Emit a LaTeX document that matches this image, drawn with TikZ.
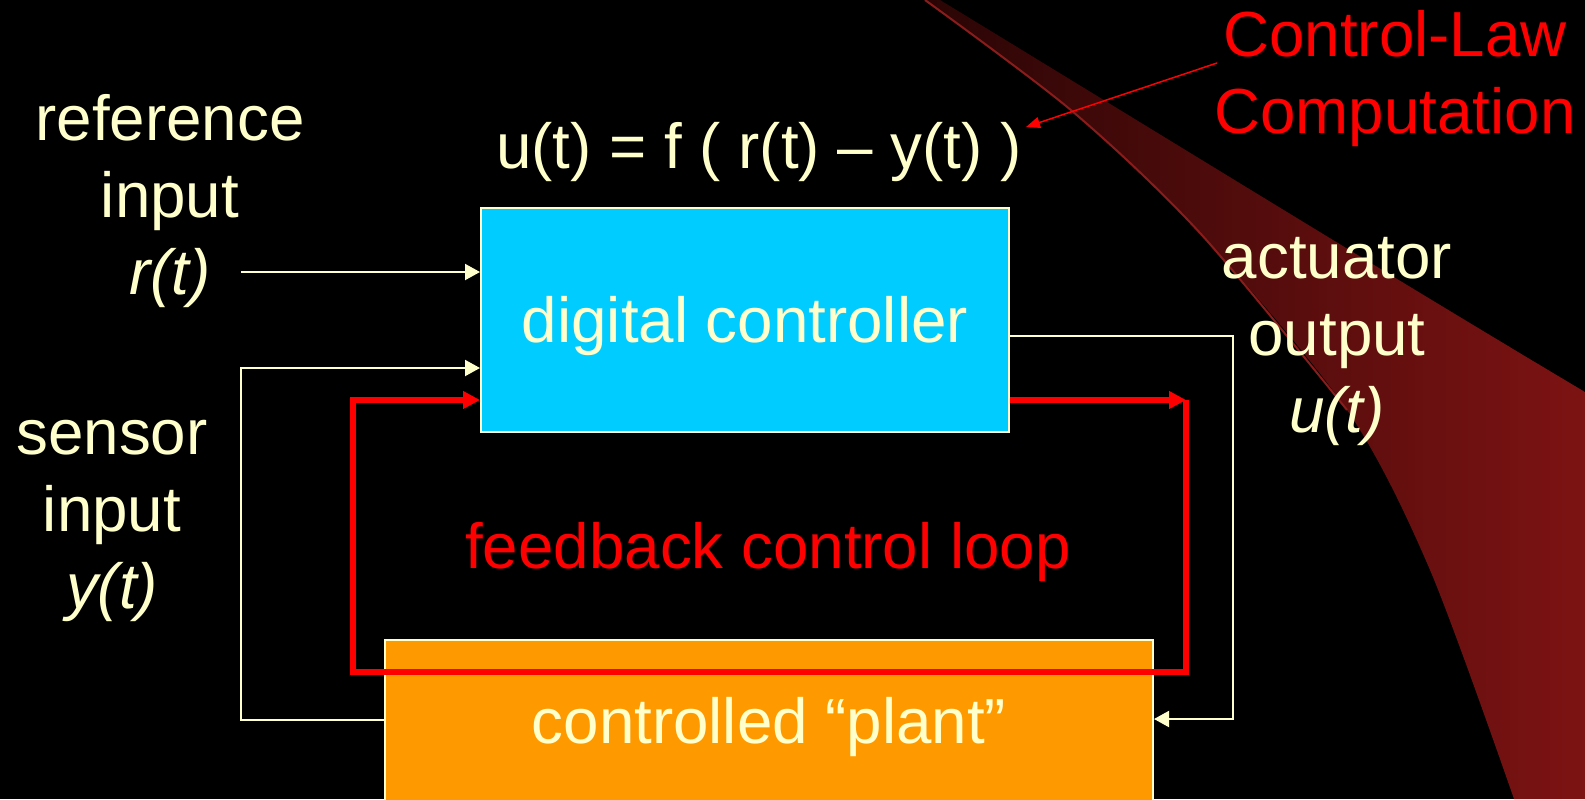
\documentclass[tikz,border=0pt]{standalone}
\usepackage{fontspec}
\setmainfont{Liberation Sans}
\usetikzlibrary{arrows.meta,calc}
\definecolor{cream}{HTML}{FFFFCC}
\definecolor{ctrlblue}{HTML}{00CCFF}
\definecolor{plantorange}{HTML}{FF9900}
\definecolor{loopred}{HTML}{FF0000}
\definecolor{swooshdark}{HTML}{2A0505}
\definecolor{swooshmid}{HTML}{5A0E0E}
\definecolor{swooshlight}{HTML}{7D1313}
\definecolor{swooshedge}{HTML}{8A1C1C}

\begin{document}
\begin{tikzpicture}[x=0.5pt,y=-0.5pt,
  bigfont/.style={font=\fontsize{31.85pt}{38.5pt}\selectfont},
  txt/.style={bigfont,text=cream,inner sep=0pt,align=center},
  redtxt/.style={bigfont,text=loopred,inner sep=0pt,align=center},
  blockbox/.style={draw=cream,line width=1pt,bigfont,text=cream,inner sep=0pt,text height=22.8pt},
  creamarrow/.style={draw=cream,line width=1pt,-{Triangle[length=7.5pt,width=8pt]}},
  redarrow/.style={draw=loopred,line width=3.3pt,-{Triangle[length=8.5pt,width=8.5pt]}},
  lawarrow/.style={draw=loopred,line width=0.75pt,-{Triangle[length=7pt,width=5.5pt]}}]

\useasboundingbox (0,0) rectangle (1585,799);
\fill[black] (0,0) rectangle (1585,799);
\clip (0,0) rectangle (1585,799);

% decorative swoosh in the background
\shade[left color=swooshdark, middle color=swooshmid, right color=swooshlight]
  (940,0) .. controls (1150,128) and (1400,282) .. (1585,392) -- (1585,799) -- (1514,799)
  -- plot[smooth] coordinates {(1514,799) (1430,570) (1347,410) (1200,233) (1072,111) (925,0)} -- cycle;
\draw[swooshedge, line width=1pt]
  plot[smooth] coordinates {(925,0) (1072,111) (1200,233) (1347,410)};

% blocks
\node[blockbox, fill=ctrlblue, minimum width=264pt, minimum height=112pt, text depth=0pt]
  (ctrl) at (745,320) {digital controller};
\node[blockbox, fill=plantorange, minimum width=384pt, minimum height=95pt, text depth=14.8pt]
  (plant) at (769,735) {controlled “plant”};

% labels (base anchor = baseline of the last line)
\node[txt, anchor=base] (refin) at (170,294) {reference\\input\\\itshape r(t)};
\node[txt, anchor=base] (sensin) at (112,608) {sensor\\input\\\itshape y(t)};
\node[txt, anchor=base] (actout) at (1337,432) {actuator\\output\\\itshape u(t)};
\node[txt, anchor=base] (law) at (759,168) {u(t) = f ( r(t) – y(t) )};
\node[redtxt, anchor=base] (lawname) at (1395,133) {Control-Law\\Computation};
\node[redtxt, anchor=base] (loopname) at (768,568) {feedback control loop};

% signal connectors
\coordinate (rtail) at (241,272);
\draw[creamarrow] (rtail) -- (rtail -| ctrl.west);
\coordinate (sBot) at (241,720);
\coordinate (sTop) at (241,368);
\draw[creamarrow] (plant.west |- sBot) -- (sBot) -- (sTop) -- (sTop -| ctrl.west);
\coordinate (aTop) at (1233,336);
\coordinate (aBot) at (1233,719);
\draw[creamarrow] (ctrl.east |- aTop) -- (aTop) -- (aBot) -- (aBot -| plant.east);

% feedback loop
\coordinate (lTR) at (1186,400);
\coordinate (lBR) at (1186,672);
\coordinate (lBL) at (353,672);
\coordinate (lTL) at (353,400);
\draw[redarrow] (ctrl.east |- lTR) -- (lTR);
\draw[redarrow, line join=miter] (lTR) -- (lBR) -- (lBL) -- (lTL) -- (lTL -| ctrl.west);

% pointer to the control law
\coordinate (lawtail) at (1217,63);
\coordinate (lawtip) at (1026,127);
\draw[lawarrow] (lawtail) -- (lawtip);
\end{tikzpicture}
\end{document}
